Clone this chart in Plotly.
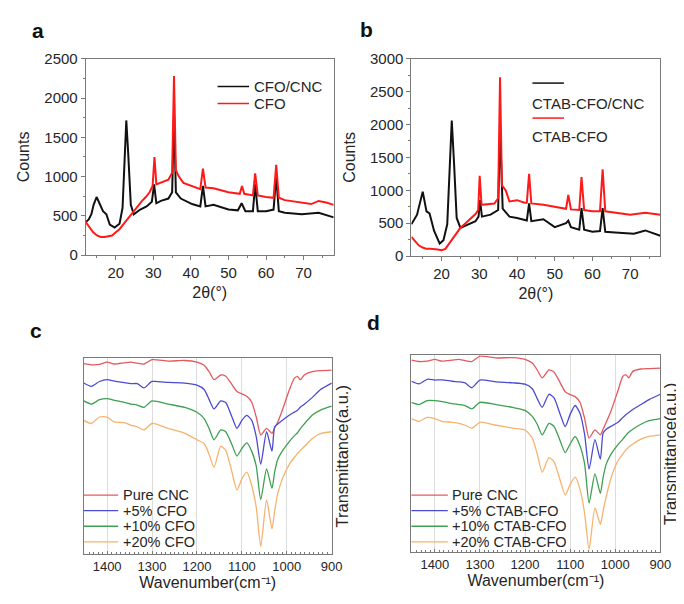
import plotly.graph_objects as go

# ---------------- DATA ----------------
# Panel a (XRD): CFO/CNC and CFO
a_black_x = [12, 12.8, 13.5, 14.1, 14.9, 15.8, 16.6, 17.5, 18.4, 19.7, 21, 21.8, 22.4, 22.8, 23.3, 24, 24.8, 26.5, 28.2, 29.6,
             30.2, 30.8, 32, 34, 35.0, 35.5, 36.0, 37.3, 40.3, 42.5, 43.2, 43.9, 46, 50, 52.5, 53.5, 54.5, 56.5, 57.1, 57.8,
             60, 62, 62.7, 63.4, 65, 69.5, 74, 78]
a_black_y = [420, 455, 520, 640, 740, 640, 560, 520, 390, 350, 400, 600, 1180, 1715, 1300, 640, 520, 580, 620, 680,
             900, 660, 690, 720, 800, 1820, 800, 720, 650, 620, 880, 620, 640, 580, 570, 660, 560, 560, 900, 560,
             560, 580, 1000, 560, 540, 520, 540, 480]
a_red_x = [12, 13, 14, 15, 16, 17, 18, 19, 20, 21, 22, 23, 24, 25, 26, 27, 28, 29,
           29.8, 30.3, 30.8, 32, 33, 34, 35.0, 35.5, 36.0, 36.8, 38, 40, 42.5, 43.2, 43.9, 46, 48, 50, 53, 53.6,
           54.2, 56.5, 57.1, 57.8, 60, 62, 62.7, 63.4, 65, 68, 70, 72, 74, 76, 78]
a_red_y = [420, 350, 290, 250, 230, 230, 240, 250, 290, 330, 390, 450, 510, 580, 640, 690, 740, 800,
           880, 1250, 900, 920, 940, 960, 1050, 2280, 1080, 1000, 920, 880, 840, 1100, 860, 850, 820, 800, 780, 880,
           780, 760, 1040, 760, 740, 730, 1150, 730, 700, 680, 660, 650, 690, 670, 640]

# Panel b (XRD): CTAB-CFO/CNC and CTAB-CFO
b_black_x = [12, 13.5, 15, 16, 16.8, 18, 19.5, 20.5, 21.5, 22.2, 22.7, 23.3, 24, 25, 27, 29, 29.8, 30.2, 30.7, 33,
             35, 35.5, 36.2, 38, 40, 42.6, 43.2, 43.8, 47, 50, 53, 53.6, 54.3, 56.5, 57.1, 57.8, 60, 62, 62.7, 63.4,
             66, 71, 74, 78]
b_black_y = [483, 630, 980, 680, 650, 385, 190, 240, 483, 1320, 2060, 1420, 580, 430, 480, 530, 600, 850, 600, 630,
             700, 1950, 720, 600, 580, 540, 800, 530, 560, 440, 500, 540, 440, 400, 730, 400, 370, 380, 730, 370,
             360, 340, 390, 310]
b_red_x = [12, 13, 14, 15, 16, 17, 18, 19, 20, 21, 22, 23, 24, 25, 26, 27, 28, 29,
           29.7, 30.1, 30.6, 32, 34, 35, 35.5, 36, 37, 38, 40, 42, 42.6, 43.2, 43.8, 47, 50, 53, 53.6, 54.3,
           56.5, 57.1, 57.8, 60, 62, 62.7, 63.4, 66, 70, 74, 78]
b_red_y = [290, 220, 160, 130, 110, 110, 110, 100, 90, 110, 190, 270, 360, 430, 480, 530, 580, 640,
           700, 1220, 780, 790, 800, 880, 2720, 1075, 1000, 830, 850, 810, 810, 1250, 800, 780, 755, 720, 930, 710,
           700, 1200, 700, 680, 680, 1320, 680, 660, 630, 660, 630]

xrd_names_a = ["CFO/CNC", "CFO"]
xrd_names_b = ["CTAB-CFO/CNC", "CTAB-CFO"]
xrd_ticks_x = [20, 30, 40, 50, 60, 70]
xrd_ticks_ya = [0, 500, 1000, 1500, 2000, 2500]
xrd_ticks_yb = [0, 500, 1000, 1500, 2000, 2500, 3000]

# Panels c, d (FTIR) – wavenumber grid and transmittance (a.u.)
wn = [1452, 1435, 1417, 1400, 1384, 1362, 1347, 1333, 1318, 1300, 1264, 1227, 1200, 1184, 1173, 1162, 1147, 1136,
      1122, 1111, 1100, 1089, 1078, 1068, 1058, 1045, 1033, 1027, 1020, 1009, 994, 983, 976, 970, 961, 943, 925, 900]

c_pure = [97.2, 96.6, 96.8, 98.0, 97.0, 97.6, 98.0, 97.4, 97.0, 99.2, 98.5, 98.8, 98.0, 96.4, 93.1, 89.0, 91.4, 90.8,
          86.5, 83.0, 81.8, 80.6, 77.5, 70.0, 60.9, 64.2, 61.7, 64.5, 67.5, 74.1, 84.0, 89.8, 90.6, 89.0, 91.4, 93.1, 93.6, 93.9]
c_5 = [87.3, 85.6, 88.1, 89.0, 88.3, 87.5, 87.0, 87.0, 84.8, 88.1, 87.6, 87.3, 86.2, 84.0, 79.0, 74.1, 78.2, 77.4,
       70.0, 64.2, 68.3, 70.8, 68.3, 60.0, 46.0, 62.5, 52.6, 65.0, 66.5, 68.5, 71.0, 72.5, 73.5, 75.0, 76.5, 80.0, 84.0, 87.3]
c_10 = [78.2, 76.6, 78.8, 79.4, 78.5, 77.5, 76.6, 76.1, 74.9, 78.2, 76.6, 74.9, 72.4, 69.2, 64.2, 58.4, 63.4, 62.5,
        55.9, 50.1, 54.0, 56.8, 52.5, 45.0, 27.9, 43.6, 33.7, 42.0, 48.5, 53.0, 57.6, 60.5, 62.0, 64.0, 66.5, 71.0, 73.5, 75.5]
c_20 = [68.3, 66.7, 70.0, 70.0, 67.5, 67.2, 65.8, 65.0, 63.4, 66.7, 64.2, 61.7, 58.4, 56.5, 51.0, 44.4, 55.1, 53.0,
        42.0, 32.8, 38.5, 41.9, 35.0, 24.0, 4.0, 27.9, 13.0, 22.0, 31.2, 39.0, 46.0, 49.5, 51.5, 53.0, 55.0, 59.0, 61.5, 62.5]

d_pure = [97.5, 96.8, 97.0, 97.9, 97.0, 97.5, 97.9, 97.2, 96.8, 99.5, 98.6, 98.8, 97.9, 96.0, 92.5, 88.5, 92.6, 91.5,
          86.0, 81.5, 80.0, 79.0, 76.0, 68.0, 58.0, 62.1, 59.6, 62.5, 66.0, 72.0, 82.0, 89.3, 90.0, 88.5, 91.8, 93.0, 93.2, 93.4]
d_5 = [86.8, 85.5, 87.8, 87.4, 87.5, 86.8, 86.5, 86.0, 83.5, 87.4, 86.5, 86.0, 85.3, 83.0, 78.0, 73.6, 80.2, 78.5,
       70.0, 63.8, 70.0, 74.5, 70.5, 60.0, 42.3, 57.2, 47.3, 60.5, 62.5, 64.0, 66.0, 68.5, 70.0, 71.0, 72.5, 75.0, 77.5, 80.2]
d_10 = [76.1, 75.0, 77.0, 77.0, 76.5, 75.5, 75.0, 74.5, 72.8, 76.1, 75.0, 73.5, 72.0, 69.0, 65.0, 59.6, 65.4, 64.0,
        56.5, 50.6, 55.0, 58.8, 54.0, 45.0, 25.0, 39.9, 30.0, 38.0, 44.8, 50.0, 54.7, 57.5, 59.5, 61.0, 62.5, 65.0, 66.8, 67.9]
d_20 = [67.9, 66.5, 68.5, 67.9, 66.5, 66.0, 65.5, 64.5, 63.0, 66.0, 64.5, 63.0, 62.1, 58.0, 50.0, 40.7, 48.1, 46.0,
        36.5, 29.2, 34.5, 38.2, 32.0, 20.0, 1.6, 22.6, 14.3, 21.0, 28.3, 38.0, 46.5, 50.0, 52.0, 53.5, 55.0, 57.5, 58.8, 59.6]

ftir_names_c = ["Pure CNC", "+5% CFO", "+10% CFO", "+20% CFO"]
ftir_names_d = ["Pure CNC", "+5% CTAB-CFO", "+10% CTAB-CFO", "+20% CTAB-CFO"]
ftir_ticks = [1400, 1300, 1200, 1100, 1000, 900]
panel_letters = ["a", "b", "c", "d"]

# ---------------- STYLE ----------------
W, H = 684, 604
FONT = "Liberation Sans, Arial, sans-serif"
TXT = "#262626"
AX = "#7a7a7a"
XRD_COLORS = ["#111111", "#ff1a1a"]
FTIR_COLORS = ["#e35a5e", "#4b4bd2", "#3f9f52", "#f5b36f"]


def fx(px):
    return px / W


def fy(py):
    return 1 - py / H


fig = go.Figure()

# XRD traces
for xs, ys, col, nm in [(a_black_x, a_black_y, XRD_COLORS[0], xrd_names_a[0]),
                        (a_red_x, a_red_y, XRD_COLORS[1], xrd_names_a[1])]:
    fig.add_trace(go.Scatter(x=xs, y=ys, mode="lines", name=nm, line=dict(color=col, width=2.0),
                             xaxis="x", yaxis="y", showlegend=False))
for xs, ys, col, nm in [(b_black_x, b_black_y, XRD_COLORS[0], xrd_names_b[0]),
                        (b_red_x, b_red_y, XRD_COLORS[1], xrd_names_b[1])]:
    fig.add_trace(go.Scatter(x=xs, y=ys, mode="lines", name=nm, line=dict(color=col, width=2.0),
                             xaxis="x2", yaxis="y2", showlegend=False))

# FTIR traces
for ys, col, nm in zip([c_pure, c_5, c_10, c_20], FTIR_COLORS, ftir_names_c):
    fig.add_trace(go.Scatter(x=wn, y=ys, mode="lines", name=nm,
                             line=dict(color=col, width=1.3, shape="spline", smoothing=0.6),
                             xaxis="x3", yaxis="y3", showlegend=False))
for ys, col, nm in zip([d_pure, d_5, d_10, d_20], FTIR_COLORS, ftir_names_d):
    fig.add_trace(go.Scatter(x=wn, y=ys, mode="lines", name=nm,
                             line=dict(color=col, width=1.3, shape="spline", smoothing=0.6),
                             xaxis="x4", yaxis="y4", showlegend=False))


def xrd_x(x0, x1, anchor):
    return dict(domain=[fx(x0), fx(x1)], anchor=anchor, range=[12, 78],
                tickmode="array", tickvals=xrd_ticks_x, ticks="outside", ticklen=4, tickcolor=AX,
                minor=dict(tickmode="linear", tick0=0, dtick=5, ticks="outside", ticklen=2, tickcolor=AX),
                showline=True, linecolor=AX, linewidth=1, mirror=True, showgrid=False, zeroline=False,
                tickfont=dict(family=FONT, size=15, color=TXT),
                title=dict(text="2θ(°)", font=dict(family=FONT, size=16, color=TXT), standoff=6))


def xrd_y(y0, y1, anchor, rng, ticks):
    return dict(domain=[fy(y1), fy(y0)], anchor=anchor, range=rng,
                tickmode="array", tickvals=ticks, ticks="outside", ticklen=4, tickcolor=AX,
                minor=dict(tickmode="linear", tick0=0, dtick=250, ticks="outside", ticklen=2, tickcolor=AX),
                showline=True, linecolor=AX, linewidth=1, mirror=True, showgrid=False, zeroline=False,
                tickfont=dict(family=FONT, size=15, color=TXT),
                title=dict(text="Counts", font=dict(family=FONT, size=16, color=TXT), standoff=10))


def ftir_x(x0, x1, anchor):
    return dict(domain=[fx(x0), fx(x1)], anchor=anchor, range=[1452, 900],
                tickmode="array", tickvals=ftir_ticks, ticks="inside", ticklen=3, tickcolor=AX,
                minor=dict(tickmode="linear", tick0=0, dtick=10, ticks="inside", ticklen=2, tickcolor=AX),
                showline=True, linecolor=AX, linewidth=1, mirror=True,
                showgrid=True, gridcolor="#dcdcdc", gridwidth=1, zeroline=False,
                tickfont=dict(family=FONT, size=13, color=TXT),
                title=dict(text="Wavenumber(cm\u207b\u00b9)", font=dict(family=FONT, size=16, color=TXT), standoff=2))


def ftir_y(y0, y1, anchor):
    return dict(domain=[fy(y1), fy(y0)], anchor=anchor, range=[0, 100], side="right",
                showticklabels=False, ticks="",
                showline=True, linecolor=AX, linewidth=1, mirror=True, showgrid=False, zeroline=False,
                title=dict(text="Transmittance(a.u.)", font=dict(family=FONT, size=16.5, color=TXT), standoff=4))


fig.update_layout(
    width=W, height=H, margin=dict(l=0, r=0, t=0, b=0),
    paper_bgcolor="white", plot_bgcolor="white",
    font=dict(family=FONT, color=TXT),
    xaxis=xrd_x(79, 331, "y"), yaxis=xrd_y(43, 245, "x", [0, 2500], xrd_ticks_ya),
    xaxis2=xrd_x(410, 663, "y2"), yaxis2=xrd_y(43, 246, "x2", [0, 3000], xrd_ticks_yb),
    xaxis3=ftir_x(77, 329, "y3"), yaxis3=ftir_y(351, 553, "x3"),
    xaxis4=ftir_x(410, 663, "y4"), yaxis4=ftir_y(348, 551, "x4"),
)

shapes = []
annotations = []


def legend_row(x0, x1, y_line, tx, ty, text, color, size=15, w=1.5):
    shapes.append(dict(type="line", xref="paper", yref="paper", x0=fx(x0), x1=fx(x1), y0=fy(y_line), y1=fy(y_line),
                       line=dict(color=color, width=w)))
    annotations.append(dict(xref="paper", yref="paper", x=fx(tx), y=fy(ty), text=text, showarrow=False,
                            xanchor="left", yanchor="middle", font=dict(family=FONT, size=size, color=TXT)))


# legend a
legend_row(213, 245, 71.5, 248, 71.5, xrd_names_a[0], XRD_COLORS[0])
legend_row(213, 245, 89, 248, 89.5, xrd_names_a[1], XRD_COLORS[1])
# legend b (line above text)
legend_row(533, 565, 68, 531, 89, xrd_names_b[0], XRD_COLORS[0])
legend_row(533, 565, 104, 531, 123, xrd_names_b[1], XRD_COLORS[1])
# legend c
for i, (nm, col) in enumerate(zip(ftir_names_c, FTIR_COLORS)):
    yy = 492 + 16 * i
    legend_row(77, 112, yy, 115, yy, nm, col, size=14.5, w=1.3)
# legend d
for i, (nm, col) in enumerate(zip(ftir_names_d, FTIR_COLORS)):
    yy = 492 + 16 * i
    legend_row(410, 447, yy, 449, yy, nm, col, size=14.5, w=1.3)

# panel letters
for letter, px, py in zip(panel_letters, [30, 364, 28, 371], [14, 13, 323, 314]):
    annotations.append(dict(xref="paper", yref="paper", x=fx(px), y=fy(py), text=letter,
                            showarrow=False, xanchor="center", yanchor="middle",
                            font=dict(family=FONT, size=21, color="#111111", weight="bold")))

fig.update_layout(shapes=shapes, annotations=annotations)
fig.write_html("out.html")
